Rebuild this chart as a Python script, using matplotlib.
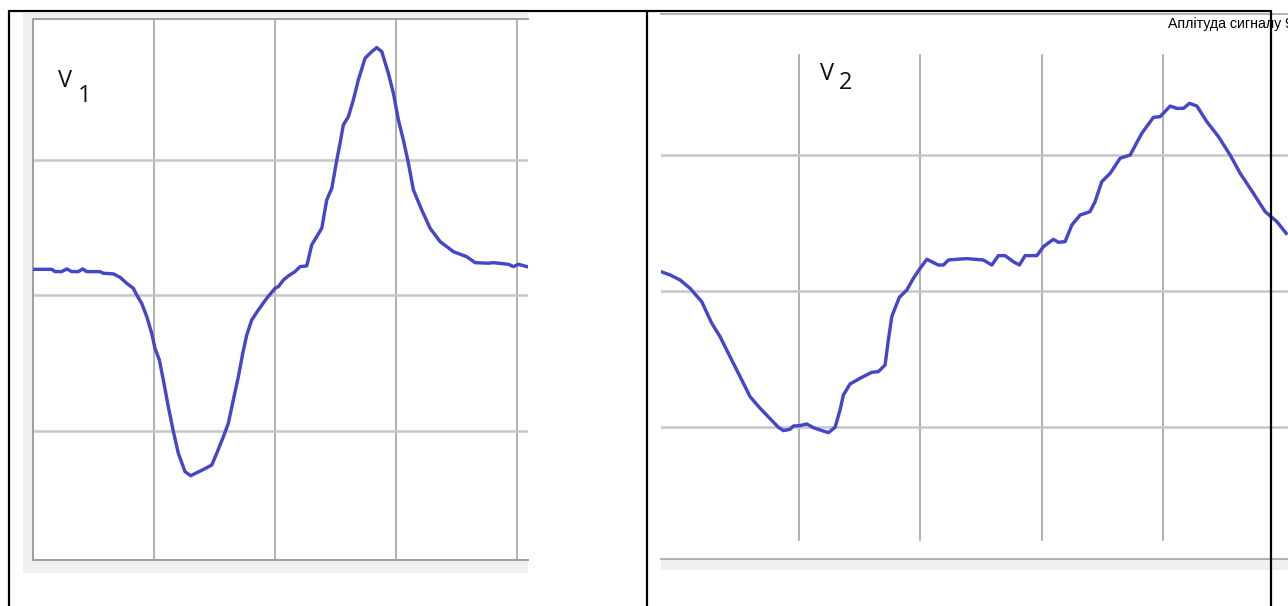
import matplotlib
matplotlib.use("Agg")
import matplotlib.pyplot as plt
from matplotlib.patches import Rectangle
from matplotlib.lines import Line2D

# ---------------- data (grid-division units) ----------------
v1_x = [0.00, 0.155, 0.182, 0.237, 0.279, 0.320, 0.374, 0.411, 0.444, 0.554, 0.581, 0.664,
        0.719, 0.774, 0.829, 0.857, 0.898, 0.940, 0.981, 1.008, 1.044, 1.077, 1.118, 1.160,
        1.201, 1.256, 1.303, 1.353, 1.421, 1.477, 1.518, 1.573, 1.614, 1.655, 1.697, 1.733,
        1.766, 1.807, 1.862, 1.931, 2.000, 2.027, 2.069, 2.110, 2.165, 2.207, 2.262, 2.303,
        2.386, 2.427, 2.469, 2.510, 2.537, 2.564, 2.606, 2.647, 2.688, 2.744, 2.799, 2.840,
        2.882, 2.936, 2.978, 3.019, 3.060, 3.102, 3.143, 3.212, 3.281, 3.364, 3.474, 3.584,
        3.653, 3.763, 3.804, 3.928, 3.969, 4.011, 4.080]
v1_y = [2.193, 2.193, 2.176, 2.176, 2.196, 2.176, 2.176, 2.196, 2.176, 2.176, 2.164, 2.159,
        2.134, 2.090, 2.053, 2.004, 1.942, 1.844, 1.721, 1.610, 1.524, 1.376, 1.179, 0.995,
        0.835, 0.700, 0.670, 0.692, 0.722, 0.749, 0.835, 0.958, 1.057, 1.229, 1.401, 1.573,
        1.708, 1.819, 1.893, 1.979, 2.053, 2.065, 2.114, 2.144, 2.176, 2.213, 2.218, 2.373,
        2.496, 2.705, 2.791, 3.000, 3.123, 3.258, 3.320, 3.443, 3.590, 3.751, 3.799, 3.829,
        3.799, 3.640, 3.492, 3.295, 3.148, 2.976, 2.779, 2.631, 2.496, 2.397, 2.323, 2.286,
        2.242, 2.238, 2.242, 2.230, 2.213, 2.230, 2.213]

v2_x = [-0.138, -0.063, 0.019, 0.101, 0.198, 0.280, 0.349, 0.417, 0.514, 0.596, 0.678, 0.829,
        0.871, 0.926, 0.953, 1.008, 1.063, 1.118, 1.173, 1.242, 1.297, 1.338, 1.365, 1.420,
        1.503, 1.599, 1.654, 1.709, 1.736, 1.764, 1.791, 1.827, 1.888, 1.942, 1.998, 2.053,
        2.148, 2.190, 2.231, 2.300, 2.383, 2.519, 2.589, 2.643, 2.698, 2.767, 2.816, 2.863,
        2.960, 3.014, 3.096, 3.138, 3.193, 3.248, 3.317, 3.397, 3.440, 3.495, 3.564, 3.646,
        3.729, 3.825, 3.921, 3.976, 4.059, 4.114, 4.168, 4.218, 4.279, 4.361, 4.457, 4.553,
        4.636, 4.745, 4.842, 4.938, 5.015]
v2_y = [2.142, 2.118, 2.081, 2.020, 1.921, 1.763, 1.664, 1.542, 1.370, 1.223, 1.138, 0.998,
        0.973, 0.983, 1.007, 1.010, 1.022, 0.995, 0.978, 0.958, 0.998, 1.125, 1.235, 1.316,
        1.358, 1.402, 1.407, 1.456, 1.640, 1.811, 1.873, 1.954, 2.007, 2.093, 2.167, 2.233,
        2.191, 2.191, 2.228, 2.233, 2.238, 2.228, 2.191, 2.260, 2.260, 2.215, 2.191, 2.260,
        2.260, 2.326, 2.380, 2.358, 2.363, 2.485, 2.559, 2.583, 2.657, 2.804, 2.865, 2.976,
        3.000, 3.160, 3.277, 3.282, 3.360, 3.343, 3.343, 3.380, 3.360, 3.245, 3.135, 3.000,
        2.865, 2.718, 2.583, 2.510, 2.424]

v_grid = [1, 2, 3, 4]
h_grid = [1, 2, 3]
label1 = ("V", "1")
label2 = ("V", "2")
corner_text = "Аплітуда сигналу 9"

# ---------------- layout helpers ----------------
W, H = 1288, 606
def box(x0, y0, x1, y1):
    return [x0 / W, 1 - y1 / H, (x1 - x0) / W, (y1 - y0) / H]
def px(v):
    return v * 72 / 100.0

CURVE = "#4646c8"
VGRID = "#a0a0a0"
HGRID = "#c8c8c8"
BG = "#f0f0f0"

fig = plt.figure(figsize=(W / 100, H / 100), dpi=100)
fig.patch.set_facecolor("white")

# background decoration axes in pixel coordinates
bg = fig.add_axes([0, 0, 1, 1])
bg.set_xlim(0, W)
bg.set_ylim(H, 0)
bg.axis("off")
bg.add_patch(Rectangle((23, 13), 528 - 23, 573 - 13, color=BG, lw=0))
bg.add_patch(Rectangle((661, 559), W - 661, 570 - 559, color=BG, lw=0))

# ---------------- left panel ----------------
ax1 = fig.add_axes(box(33, 19, 528, 560))
ax1.set_facecolor("white")
ax1.set_xlim(0, 4.09)
ax1.set_ylim(0.048, 4.04)
for x in v_grid:
    ax1.axvline(x, color=VGRID, lw=px(1.6), zorder=1)
for y in h_grid:
    ax1.axhline(y, color=HGRID, lw=px(2.6), zorder=1)
ax1.plot(v1_x, v1_y, color=CURVE, lw=px(3.4), zorder=3, solid_joinstyle="round")
for s in ["left", "top", "bottom"]:
    ax1.spines[s].set_color(VGRID)
    ax1.spines[s].set_linewidth(px(2))
ax1.spines["right"].set_visible(False)
ax1.set_xticks([])
ax1.set_yticks([])

# ---------------- right panel ----------------
ax2 = fig.add_axes(box(661, 14, 1288, 559))
ax2.set_facecolor("white")
ax2.set_xlim(-0.138, 5.03)
ax2.set_ylim(0.029, 4.037)
for x in v_grid:
    ax2.plot([x, x], [0.169, 3.735], color=VGRID, lw=px(1.6), zorder=1)
for y in h_grid:
    ax2.axhline(y, color=HGRID, lw=px(2.6), zorder=1)
ax2.plot(v2_x, v2_y, color=CURVE, lw=px(3.4), zorder=3, solid_joinstyle="round")
ax2.spines["left"].set_visible(False)
ax2.spines["right"].set_visible(False)
ax2.spines["top"].set_color("#b4b4b4")
ax2.spines["top"].set_linewidth(px(2))
ax2.spines["bottom"].set_color(VGRID)
ax2.spines["bottom"].set_linewidth(px(1.6))
ax2.set_xticks([])
ax2.set_yticks([])

# ---------------- labels ----------------
lab_font = dict(family=["Open Sans", "DejaVu Sans"], fontsize=17, color="#111111")
fig.text(58 / W, 1 - 87 / H, label1[0], ha="left", va="baseline", **lab_font)
fig.text(78 / W, 1 - 102 / H, label1[1], ha="left", va="baseline", **lab_font)
fig.text(820 / W, 1 - 80 / H, label2[0], ha="left", va="baseline", **lab_font)
fig.text(839 / W, 1 - 89 / H, label2[1], ha="left", va="baseline", **lab_font)

fig.text(1168 / W, 1 - 24 / H, corner_text, ha="left", va="center",
         family=["Liberation Sans", "DejaVu Sans"], fontsize=10.2, color="black")

# ---------------- table frame ----------------
blk = dict(color="black", lw=px(2.2), transform=fig.transFigure, solid_capstyle="butt")
fig.add_artist(Line2D([9 / W, 1271 / W], [1 - 11 / H, 1 - 11 / H], **blk))
for xv in [9, 646.5, 1271]:
    fig.add_artist(Line2D([xv / W, xv / W], [1 - 10 / H, 0], **blk))

fig.savefig("out.png", dpi=100, facecolor="white")
